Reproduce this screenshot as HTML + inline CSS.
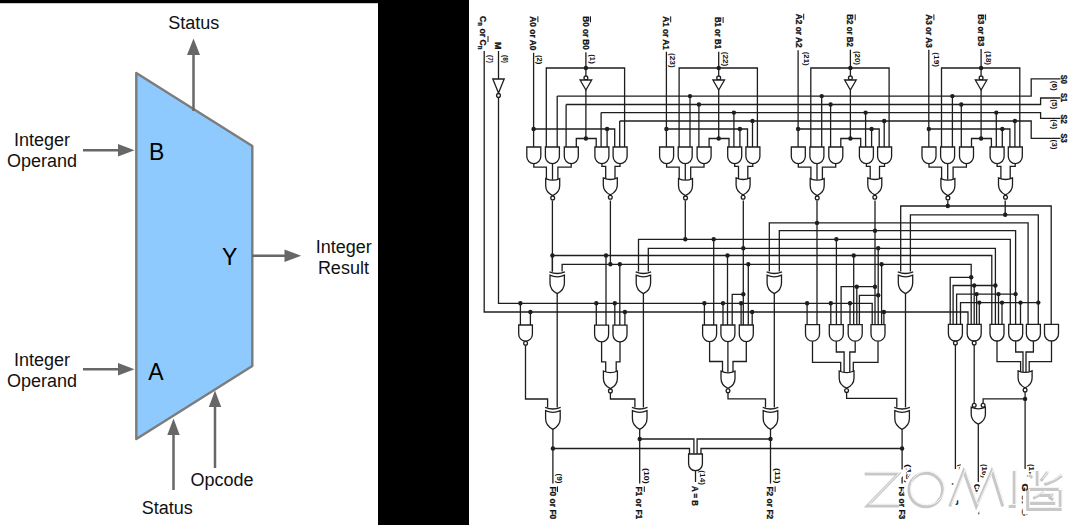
<!DOCTYPE html>
<html><head><meta charset="utf-8">
<style>
html,body{margin:0;padding:0;width:1080px;height:525px;overflow:hidden;background:#fff;}
svg{position:absolute;left:0;top:0;display:block;}
.g{fill:#fff;}
.d{fill:#1e1e1e;stroke:none;}
.b{fill:#fff;}
.n{fill:none;}
</style></head>
<body>
<svg width="1080" height="525" viewBox="0 0 1080 525">
<rect x="0" y="0" width="1080" height="525" fill="#fff"/>
<rect x="0" y="0" width="378" height="3.2" fill="#000"/>
<rect x="378" y="0" width="91" height="525" fill="#000"/>
<!-- ALU -->
<g id="alu">
<polygon points="136.3,73 252.3,146 252.3,366 136.3,439" fill="#8ecafe" stroke="#7c7c7c" stroke-width="2.45" stroke-linejoin="round"/>
<g stroke="#676767" stroke-width="2.5" fill="#676767">
<line x1="193.5" y1="111" x2="193.5" y2="54"/>
<polygon points="187,55 200,55 193.5,38.5" stroke="none"/>
<line x1="83" y1="150.2" x2="119" y2="150.2"/>
<polygon points="118,144 118,156.4 134.5,150.2" stroke="none"/>
<line x1="83" y1="369.2" x2="119" y2="369.2"/>
<polygon points="118,363 118,375.4 134.5,369.2" stroke="none"/>
<line x1="252" y1="255.8" x2="285" y2="255.8"/>
<polygon points="284.5,249.6 284.5,262 301.2,255.8" stroke="none"/>
<line x1="173.5" y1="490" x2="173.5" y2="434"/>
<polygon points="167.3,435 179.7,435 173.5,418.5" stroke="none"/>
<line x1="215" y1="468" x2="215" y2="406"/>
<polygon points="208.8,407 221.2,407 215,390.5" stroke="none"/>
</g>
<g font-family="Liberation Sans, sans-serif" font-size="18" fill="#111" text-anchor="middle">
<text x="193.7" y="28.5">Status</text>
<text x="42.1" y="145.8">Integer</text>
<text x="42.1" y="167.2">Operand</text>
<text x="42.1" y="365.8">Integer</text>
<text x="42.1" y="386.7">Operand</text>
<text x="343.7" y="252.5">Integer</text>
<text x="343.4" y="273.8">Result</text>
<text x="222.1" y="486.4">Opcode</text>
<text x="167.3" y="514">Status</text>
</g>
<g font-family="Liberation Sans, sans-serif" font-size="23" fill="#000">
<text x="149" y="160">B</text>
<text x="148.3" y="380.3">A</text>
<text x="222" y="264.7">Y</text>
</g>
</g>
<!-- SCHEMATIC -->
<g stroke="#1e1e1e" stroke-width="1.3" fill="none" stroke-linejoin="miter">
<polyline points="533.6,52.8 533.6,147"/>
<polyline points="585.9,52.3 585.9,75.8"/>
<circle cx="585.9" cy="77.9" r="1.9" class="b"/>
<path d="M580.1 80H591.7L585.9 90Z" class="g"/>
<polyline points="585.9,90 585.9,138.5"/>
<circle cx="585.9" cy="138.5" r="2.2" class="d"/>
<polyline points="546.3,147 546.3,68 624.6,68 624.6,147"/>
<circle cx="585.9" cy="68" r="2.2" class="d"/>
<polyline points="557.2,96.1 557.2,147"/>
<polyline points="566.1,104.5 566.1,147"/>
<polyline points="601.1,112.6 601.1,147"/>
<polyline points="619.7,121 619.7,147"/>
<polyline points="576.3,147 576.3,138.5 596.2,138.5 596.2,147"/>
<polyline points="533.6,129 614.7,129 614.7,147"/>
<circle cx="533.6" cy="129" r="2.2" class="d"/>
<circle cx="607.1" cy="129" r="2.2" class="d"/>
<polyline points="607.1,129 607.1,147"/>
<path d="M526.8 147H540.8V156.6A7 7 0 0 1 526.8 156.6Z" class="g"/>
<path d="M545.4 147H559.4V156.6A7 7 0 0 1 545.4 156.6Z" class="g"/>
<path d="M564.3 147H578.3V156.6A7 7 0 0 1 564.3 156.6Z" class="g"/>
<path d="M594.9 147H608.9V156.6A7 7 0 0 1 594.9 156.6Z" class="g"/>
<path d="M613.1 147H627.1V156.6A7 7 0 0 1 613.1 156.6Z" class="g"/>
<polyline points="533.8,163.6 533.8,167.1 546.4,167.1 546.4,179.5"/>
<polyline points="552.5,163.6 552.5,179.8"/>
<polyline points="571.2,163.6 571.2,167.1 557.9,167.1 557.9,179.5"/>
<polyline points="601.9,163.6 601.9,166.4 605.7,166.4 605.7,179"/>
<polyline points="620,163.6 620,166.4 615,166.4 615,179"/>
<path d="M545.7 178.6Q552.7 181.8 559.7 178.6V185.7Q559.7 192.2 552.7 195.6Q545.7 192.2 545.7 185.7Z" class="g"/>
<circle cx="552.7" cy="197.9" r="1.9" class="b"/>
<path d="M603.3 177.9Q610.3 181.1 617.3 177.9V185Q617.3 191.5 610.3 194.9Q603.3 191.5 603.3 185Z" class="g"/>
<circle cx="610.3" cy="197.2" r="1.9" class="b"/>
<polyline points="666.4,51.7 666.4,147"/>
<polyline points="718.7,51.7 718.7,75.8"/>
<circle cx="718.7" cy="77.9" r="1.9" class="b"/>
<path d="M712.9 80H724.5L718.7 90Z" class="g"/>
<polyline points="718.7,90 718.7,138.5"/>
<circle cx="718.7" cy="138.5" r="2.2" class="d"/>
<polyline points="679.1,147 679.1,68 757.4,68 757.4,147"/>
<circle cx="718.7" cy="68" r="2.2" class="d"/>
<polyline points="690,96.1 690,147"/>
<polyline points="698.9,104.5 698.9,147"/>
<polyline points="733.9,112.6 733.9,147"/>
<polyline points="752.5,121 752.5,147"/>
<circle cx="690" cy="96.1" r="2.2" class="d"/>
<circle cx="698.9" cy="104.5" r="2.2" class="d"/>
<circle cx="733.9" cy="112.6" r="2.2" class="d"/>
<circle cx="752.5" cy="121" r="2.2" class="d"/>
<polyline points="709.1,147 709.1,138.5 729,138.5 729,147"/>
<polyline points="666.4,129 747.5,129 747.5,147"/>
<circle cx="666.4" cy="129" r="2.2" class="d"/>
<circle cx="739.9" cy="129" r="2.2" class="d"/>
<polyline points="739.9,129 739.9,147"/>
<path d="M659.6 147H673.6V156.6A7 7 0 0 1 659.6 156.6Z" class="g"/>
<path d="M678.2 147H692.2V156.6A7 7 0 0 1 678.2 156.6Z" class="g"/>
<path d="M697.1 147H711.1V156.6A7 7 0 0 1 697.1 156.6Z" class="g"/>
<path d="M727.7 147H741.7V156.6A7 7 0 0 1 727.7 156.6Z" class="g"/>
<path d="M745.9 147H759.9V156.6A7 7 0 0 1 745.9 156.6Z" class="g"/>
<polyline points="666.6,163.6 666.6,167.1 679.2,167.1 679.2,179.5"/>
<polyline points="685.3,163.6 685.3,179.8"/>
<polyline points="704,163.6 704,167.1 690.7,167.1 690.7,179.5"/>
<polyline points="734.7,163.6 734.7,166.4 738.5,166.4 738.5,179"/>
<polyline points="752.8,163.6 752.8,166.4 747.8,166.4 747.8,179"/>
<path d="M678.5 178.6Q685.5 181.8 692.5 178.6V185.7Q692.5 192.2 685.5 195.6Q678.5 192.2 678.5 185.7Z" class="g"/>
<circle cx="685.5" cy="197.9" r="1.9" class="b"/>
<path d="M736.1 177.9Q743.1 181.1 750.1 177.9V185Q750.1 191.5 743.1 194.9Q736.1 191.5 736.1 185Z" class="g"/>
<circle cx="743.1" cy="197.2" r="1.9" class="b"/>
<polyline points="798.1,50.3 798.1,147"/>
<polyline points="850.4,49.7 850.4,75.8"/>
<circle cx="850.4" cy="77.9" r="1.9" class="b"/>
<path d="M844.6 80H856.2L850.4 90Z" class="g"/>
<polyline points="850.4,90 850.4,138.5"/>
<circle cx="850.4" cy="138.5" r="2.2" class="d"/>
<polyline points="810.8,147 810.8,68 889.1,68 889.1,147"/>
<circle cx="850.4" cy="68" r="2.2" class="d"/>
<polyline points="821.7,96.1 821.7,147"/>
<polyline points="830.6,104.5 830.6,147"/>
<polyline points="865.6,112.6 865.6,147"/>
<polyline points="884.2,121 884.2,147"/>
<circle cx="821.7" cy="96.1" r="2.2" class="d"/>
<circle cx="830.6" cy="104.5" r="2.2" class="d"/>
<circle cx="865.6" cy="112.6" r="2.2" class="d"/>
<circle cx="884.2" cy="121" r="2.2" class="d"/>
<polyline points="840.8,147 840.8,138.5 860.7,138.5 860.7,147"/>
<polyline points="798.1,129 879.2,129 879.2,147"/>
<circle cx="798.1" cy="129" r="2.2" class="d"/>
<circle cx="871.6" cy="129" r="2.2" class="d"/>
<polyline points="871.6,129 871.6,147"/>
<path d="M791.3 147H805.3V156.6A7 7 0 0 1 791.3 156.6Z" class="g"/>
<path d="M809.9 147H823.9V156.6A7 7 0 0 1 809.9 156.6Z" class="g"/>
<path d="M828.8 147H842.8V156.6A7 7 0 0 1 828.8 156.6Z" class="g"/>
<path d="M859.4 147H873.4V156.6A7 7 0 0 1 859.4 156.6Z" class="g"/>
<path d="M877.6 147H891.6V156.6A7 7 0 0 1 877.6 156.6Z" class="g"/>
<polyline points="798.3,163.6 798.3,167.1 810.9,167.1 810.9,179.5"/>
<polyline points="817,163.6 817,179.8"/>
<polyline points="835.7,163.6 835.7,167.1 822.4,167.1 822.4,179.5"/>
<polyline points="866.4,163.6 866.4,166.4 870.2,166.4 870.2,179"/>
<polyline points="884.5,163.6 884.5,166.4 879.5,166.4 879.5,179"/>
<path d="M810.2 178.6Q817.2 181.8 824.2 178.6V185.7Q824.2 192.2 817.2 195.6Q810.2 192.2 810.2 185.7Z" class="g"/>
<circle cx="817.2" cy="197.9" r="1.9" class="b"/>
<path d="M867.8 177.9Q874.8 181.1 881.8 177.9V185Q881.8 191.5 874.8 194.9Q867.8 191.5 867.8 185Z" class="g"/>
<circle cx="874.8" cy="197.2" r="1.9" class="b"/>
<polyline points="928.8,49.7 928.8,147"/>
<polyline points="981.1,49 981.1,75.8"/>
<circle cx="981.1" cy="77.9" r="1.9" class="b"/>
<path d="M975.3 80H986.9L981.1 90Z" class="g"/>
<polyline points="981.1,90 981.1,138.5"/>
<circle cx="981.1" cy="138.5" r="2.2" class="d"/>
<polyline points="941.5,147 941.5,68 1019.8,68 1019.8,147"/>
<circle cx="981.1" cy="68" r="2.2" class="d"/>
<polyline points="952.4,96.1 952.4,147"/>
<polyline points="961.3,104.5 961.3,147"/>
<polyline points="996.3,112.6 996.3,147"/>
<polyline points="1014.9,121 1014.9,147"/>
<circle cx="952.4" cy="96.1" r="2.2" class="d"/>
<circle cx="961.3" cy="104.5" r="2.2" class="d"/>
<circle cx="996.3" cy="112.6" r="2.2" class="d"/>
<circle cx="1014.9" cy="121" r="2.2" class="d"/>
<polyline points="971.5,147 971.5,138.5 991.4,138.5 991.4,147"/>
<polyline points="928.8,129 1009.9,129 1009.9,147"/>
<circle cx="928.8" cy="129" r="2.2" class="d"/>
<circle cx="1002.3" cy="129" r="2.2" class="d"/>
<polyline points="1002.3,129 1002.3,147"/>
<path d="M922 147H936V156.6A7 7 0 0 1 922 156.6Z" class="g"/>
<path d="M940.6 147H954.6V156.6A7 7 0 0 1 940.6 156.6Z" class="g"/>
<path d="M959.5 147H973.5V156.6A7 7 0 0 1 959.5 156.6Z" class="g"/>
<path d="M990.1 147H1004.1V156.6A7 7 0 0 1 990.1 156.6Z" class="g"/>
<path d="M1008.3 147H1022.3V156.6A7 7 0 0 1 1008.3 156.6Z" class="g"/>
<polyline points="929,163.6 929,167.1 941.6,167.1 941.6,179.5"/>
<polyline points="947.7,163.6 947.7,179.8"/>
<polyline points="966.4,163.6 966.4,167.1 953.1,167.1 953.1,179.5"/>
<polyline points="997.1,163.6 997.1,166.4 1000.9,166.4 1000.9,179"/>
<polyline points="1015.2,163.6 1015.2,166.4 1010.2,166.4 1010.2,179"/>
<path d="M940.9 178.6Q947.9 181.8 954.9 178.6V185.7Q954.9 192.2 947.9 195.6Q940.9 192.2 940.9 185.7Z" class="g"/>
<circle cx="947.9" cy="197.9" r="1.9" class="b"/>
<path d="M998.5 177.9Q1005.5 181.1 1012.5 177.9V185Q1012.5 191.5 1005.5 194.9Q998.5 191.5 998.5 185Z" class="g"/>
<circle cx="1005.5" cy="197.2" r="1.9" class="b"/>
<polyline points="557.2,96.1 1031.2,96.1 1031.2,78.9 1060.5,78.9"/>
<polyline points="566.1,104.5 1040.6,104.5 1040.6,98 1060.5,98"/>
<polyline points="601.1,112.6 1040.6,112.6 1040.6,118.3 1060.5,118.3"/>
<polyline points="619.7,121 1031.2,121 1031.2,138.3 1060.5,138.3"/>
<polyline points="484.2,51 484.2,312 968,312 968,324.4"/>
<circle cx="530.4" cy="312" r="2.2" class="d"/>
<polyline points="530.4,312 530.4,325"/>
<circle cx="624.9" cy="312" r="2.2" class="d"/>
<polyline points="624.9,312 624.9,325"/>
<circle cx="752.2" cy="312" r="2.2" class="d"/>
<polyline points="752.2,312 752.2,325"/>
<circle cx="883.9" cy="312" r="2.2" class="d"/>
<polyline points="883.9,312 883.9,325"/>
<polyline points="498.5,51 498.5,79"/>
<path d="M492.8 79H504.2L498.5 93Z" class="g"/>
<circle cx="498.5" cy="95.4" r="1.9" class="b"/>
<polyline points="498.5,97.5 498.5,303.3 872.2,303.3 872.2,324.6"/>
<circle cx="520.4" cy="303.3" r="2.2" class="d"/>
<polyline points="520.4,303.3 520.4,325"/>
<circle cx="596.3" cy="303.3" r="2.2" class="d"/>
<polyline points="596.3,303.3 596.3,325"/>
<circle cx="614.8" cy="303.3" r="2.2" class="d"/>
<polyline points="614.8,303.3 614.8,325"/>
<circle cx="704.4" cy="303.3" r="2.2" class="d"/>
<polyline points="704.4,303.3 704.4,325"/>
<circle cx="723" cy="303.3" r="2.2" class="d"/>
<polyline points="723,303.3 723,325"/>
<circle cx="741.1" cy="303.3" r="2.2" class="d"/>
<polyline points="741.1,303.3 741.1,325"/>
<circle cx="807.1" cy="303.3" r="2.2" class="d"/>
<polyline points="807.1,303.3 807.1,325"/>
<circle cx="830.8" cy="303.3" r="2.2" class="d"/>
<polyline points="830.8,303.3 830.8,325"/>
<circle cx="850" cy="303.3" r="2.2" class="d"/>
<polyline points="850,303.3 850,325"/>
<polyline points="900.7,271.5 900.7,206 1051.2,206 1051.2,324.4"/>
<polyline points="910.4,271.5 910.4,214.8 1038.3,214.8 1038.3,324.4"/>
<polyline points="769.3,271.5 769.3,222.9 1028.1,222.9 1028.1,324.4"/>
<polyline points="779.3,271.5 779.3,230.7 1015.6,230.7 1015.6,324.4"/>
<polyline points="638.5,271.5 638.5,239.3 1010.3,239.3 1010.3,324.4"/>
<polyline points="648.3,271.5 648.3,248.3 995.4,248.3 995.4,324.4"/>
<polyline points="552.4,271.5 552.4,255.5 991.8,255.5 991.8,324.4"/>
<polyline points="562.1,271.5 562.1,264.3 971.2,264.3 971.2,324.4"/>
<polyline points="552.4,200.5 552.4,271.5"/>
<circle cx="552.4" cy="255.5" r="2.2" class="d"/>
<polyline points="610.4,200.5 610.4,264.3"/>
<circle cx="610.4" cy="264.3" r="2.2" class="d"/>
<polyline points="685.3,200.5 685.3,239.3"/>
<circle cx="685.3" cy="239.3" r="2.2" class="d"/>
<polyline points="743.3,200.5 743.3,325"/>
<circle cx="743.3" cy="248.3" r="2.2" class="d"/>
<circle cx="743.3" cy="294.3" r="2.2" class="d"/>
<polyline points="817,200.5 817,325"/>
<circle cx="817" cy="222.9" r="2.2" class="d"/>
<polyline points="875,200.5 875,324.6"/>
<circle cx="875" cy="230.7" r="2.2" class="d"/>
<circle cx="875" cy="286.7" r="2.2" class="d"/>
<polyline points="947.8,200.5 947.8,206"/>
<circle cx="947.8" cy="206" r="2.2" class="d"/>
<polyline points="1005.2,200.5 1005.2,214.8"/>
<circle cx="1005.2" cy="214.8" r="2.2" class="d"/>
<circle cx="606" cy="255.5" r="2.2" class="d"/>
<polyline points="606,255.5 606,325"/>
<circle cx="727.5" cy="255.5" r="2.2" class="d"/>
<polyline points="727.5,255.5 727.5,325"/>
<circle cx="853.7" cy="255.5" r="2.2" class="d"/>
<polyline points="853.7,255.5 853.7,325"/>
<circle cx="619.8" cy="264.3" r="2.2" class="d"/>
<polyline points="619.8,264.3 619.8,325"/>
<circle cx="748.3" cy="264.3" r="2.2" class="d"/>
<polyline points="748.3,264.3 748.3,325"/>
<circle cx="881.6" cy="264.3" r="2.2" class="d"/>
<polyline points="881.6,264.3 881.6,325"/>
<circle cx="713.7" cy="239.3" r="2.2" class="d"/>
<polyline points="713.7,239.3 713.7,325"/>
<circle cx="836.4" cy="239.3" r="2.2" class="d"/>
<polyline points="836.4,239.3 836.4,325"/>
<circle cx="878.2" cy="248.3" r="2.2" class="d"/>
<polyline points="878.2,248.3 878.2,325"/>
<polyline points="732.2,325 732.2,294.3 743.3,294.3"/>
<polyline points="841.1,324.6 841.1,286.7 875,286.7"/>
<circle cx="856.8" cy="286.7" r="2.2" class="d"/>
<polyline points="856.8,286.7 856.8,324.6"/>
<polyline points="859.4,324.6 859.4,295.3 878.2,295.3"/>
<circle cx="878.2" cy="295.3" r="2.2" class="d"/>
<polyline points="950.2,324.4 950.2,277.3 971.2,277.3"/>
<circle cx="971.2" cy="277.3" r="2.2" class="d"/>
<polyline points="953.1,324.4 953.1,285.5 995.4,285.5"/>
<circle cx="995.4" cy="285.5" r="2.2" class="d"/>
<circle cx="974.2" cy="285.5" r="2.2" class="d"/>
<polyline points="974.2,285.5 974.2,324.4"/>
<polyline points="956.6,324.4 956.6,294.1 1015.6,294.1"/>
<circle cx="1015.6" cy="294.1" r="2.2" class="d"/>
<circle cx="976.6" cy="294.1" r="2.2" class="d"/>
<polyline points="976.6,294.1 976.6,324.4"/>
<circle cx="998.5" cy="294.1" r="2.2" class="d"/>
<polyline points="998.5,294.1 998.5,324.4"/>
<polyline points="960.5,324.4 960.5,302.6 1038.3,302.6"/>
<circle cx="1038.3" cy="302.6" r="2.2" class="d"/>
<circle cx="979.3" cy="302.6" r="2.2" class="d"/>
<polyline points="979.3,302.6 979.3,324.4"/>
<circle cx="1002" cy="302.6" r="2.2" class="d"/>
<polyline points="1002,302.6 1002,324.4"/>
<circle cx="1020.5" cy="302.6" r="2.2" class="d"/>
<polyline points="1020.5,302.6 1020.5,324.4"/>
<path d="M550 275.2Q557.2 278.4 564.4 275.2V282.9Q564.4 289.9 557.2 293.6Q550 289.9 550 282.9Z" class="g"/>
<path d="M549.5 271.9Q557.2 275.1 564.9 271.9" class="n"/>
<polyline points="557.2,293.6 557.2,407.5"/>
<path d="M636.2 275.2Q643.4 278.4 650.6 275.2V282.9Q650.6 289.9 643.4 293.6Q636.2 289.9 636.2 282.9Z" class="g"/>
<path d="M635.7 271.9Q643.4 275.1 651.1 271.9" class="n"/>
<polyline points="643.4,293.6 643.4,407.5"/>
<path d="M767.1 275.2Q774.3 278.4 781.5 275.2V282.9Q781.5 289.9 774.3 293.6Q767.1 289.9 767.1 282.9Z" class="g"/>
<path d="M766.6 271.9Q774.3 275.1 782 271.9" class="n"/>
<polyline points="774.3,293.6 774.3,407.5"/>
<path d="M898.3 275.2Q905.5 278.4 912.7 275.2V282.9Q912.7 289.9 905.5 293.6Q898.3 289.9 898.3 282.9Z" class="g"/>
<path d="M897.8 271.9Q905.5 275.1 913.2 271.9" class="n"/>
<polyline points="905.5,293.6 905.5,407.5"/>
<path d="M518.7 325H532.4V334.3A6.8 6.8 0 0 1 518.7 334.3Z" class="g"/>
<circle cx="525.6" cy="343.2" r="1.9" class="b"/>
<polyline points="525.5,345.4 525.5,399 547.6,399 547.6,407.5"/>
<path d="M594.6 325.2H608.6V334.8A7 7 0 0 1 594.6 334.8Z" class="g"/>
<path d="M613 325.2H627V334.8A7 7 0 0 1 613 334.8Z" class="g"/>
<polyline points="601.6,341.8 601.6,361.9 605.7,361.9 605.7,372"/>
<polyline points="620,341.8 620,361.9 616.2,361.9 616.2,372"/>
<path d="M603.4 371Q610.4 374.2 617.4 371V378.4Q617.4 385.1 610.4 388.6Q603.4 385.1 603.4 378.4Z" class="g"/>
<circle cx="610.4" cy="390.9" r="1.9" class="b"/>
<polyline points="610.4,393 610.4,399 634.9,399 634.9,407.5"/>
<path d="M702.6 325H716.6V334.6A7 7 0 0 1 702.6 334.6Z" class="g"/>
<path d="M720.9 325H734.9V334.6A7 7 0 0 1 720.9 334.6Z" class="g"/>
<path d="M739.3 325H753.3V334.6A7 7 0 0 1 739.3 334.6Z" class="g"/>
<polyline points="709.6,341.6 709.6,361.5 722.5,361.5 722.5,372"/>
<polyline points="727.9,341.6 727.9,372"/>
<polyline points="746.3,341.6 746.3,361.5 733,361.5 733,372"/>
<path d="M721 371.2Q728 374.4 735 371.2V378.4Q735 385 728 388.4Q721 385 721 378.4Z" class="g"/>
<circle cx="728" cy="390.7" r="1.9" class="b"/>
<polyline points="728,393 728,398.9 765.5,398.9 765.5,407.5"/>
<path d="M805.5 324.6H819.5V334.2A7 7 0 0 1 805.5 334.2Z" class="g"/>
<path d="M829.3 324.6H843.3V334.2A7 7 0 0 1 829.3 334.2Z" class="g"/>
<path d="M848.2 324.6H862.2V334.2A7 7 0 0 1 848.2 334.2Z" class="g"/>
<path d="M871 324.6H885V334.2A7 7 0 0 1 871 334.2Z" class="g"/>
<polyline points="812.5,341.2 812.5,362.3 840.7,362.3 840.7,372"/>
<polyline points="836.3,341.2 836.3,352 844.1,352 844.1,372"/>
<polyline points="855.2,341.2 855.2,352 849.8,352 849.8,372"/>
<polyline points="878,341.2 878,362.3 853.3,362.3 853.3,372"/>
<path d="M839.2 371Q846.6 374.2 854 371V378.2Q854 384.8 846.6 388.2Q839.2 384.8 839.2 378.2Z" class="g"/>
<circle cx="846.6" cy="390.5" r="1.9" class="b"/>
<polyline points="846.6,392.6 846.6,398.4 896.8,398.4 896.8,407.5"/>
<path d="M948.4 324.4H962.4V334A7 7 0 0 1 948.4 334Z" class="g"/>
<circle cx="955.4" cy="343" r="1.9" class="b"/>
<path d="M967.2 324.4H981.2V334A7 7 0 0 1 967.2 334Z" class="g"/>
<circle cx="974.2" cy="343" r="1.9" class="b"/>
<path d="M990 324.4H1004V334A7 7 0 0 1 990 334Z" class="g"/>
<path d="M1008.7 324.4H1022.7V334A7 7 0 0 1 1008.7 334Z" class="g"/>
<path d="M1026.4 324.4H1040.4V334A7 7 0 0 1 1026.4 334Z" class="g"/>
<path d="M1044.5 324.4H1058.5V334A7 7 0 0 1 1044.5 334Z" class="g"/>
<polyline points="955.4,345.1 955.4,469"/>
<polyline points="974.2,345.1 974.2,403"/>
<polyline points="997,341 997,361.6 1020.6,361.6 1020.6,372"/>
<polyline points="1015.7,341 1015.7,352 1023,352 1023,372"/>
<polyline points="1033.4,341 1033.4,352 1026,352 1026,372"/>
<polyline points="1051.5,341 1051.5,361.6 1029.2,361.6 1029.2,372"/>
<path d="M1018.1 370.8Q1025.1 374 1032.1 370.8V377.9Q1032.1 384.4 1025.1 387.8Q1018.1 384.4 1018.1 377.9Z" class="g"/>
<circle cx="1025.1" cy="390.1" r="1.9" class="b"/>
<polyline points="1025.1,392.3 1025.1,469"/>
<circle cx="1025.1" cy="398.9" r="2.2" class="d"/>
<polyline points="983.1,403 983.1,398.9 1025.1,398.9"/>
<circle cx="974.2" cy="405.2" r="1.9" class="b"/>
<circle cx="983.1" cy="405.2" r="1.9" class="b"/>
<path d="M971.2 407.2Q978.3 410.4 985.4 407.2V414.3Q985.4 420.8 978.3 424.2Q971.2 420.8 971.2 414.3Z" class="g"/>
<polyline points="978.3,424.2 978.3,482"/>
<path d="M545.6 410.7Q552.9 413.9 560.2 410.7V418.5Q560.2 425.6 552.9 429.3Q545.6 425.6 545.6 418.5Z" class="g"/>
<path d="M545.1 407.4Q552.9 410.6 560.7 407.4" class="n"/>
<polyline points="552.9,429.3 552.9,483.5"/>
<path d="M632.4 410.7Q639.7 413.9 647 410.7V418.5Q647 425.6 639.7 429.3Q632.4 425.6 632.4 418.5Z" class="g"/>
<path d="M631.9 407.4Q639.7 410.6 647.5 407.4" class="n"/>
<polyline points="639.7,429.3 639.7,483.5"/>
<path d="M763.2 410.7Q770.5 413.9 777.8 410.7V418.5Q777.8 425.6 770.5 429.3Q763.2 425.6 763.2 418.5Z" class="g"/>
<path d="M762.7 407.4Q770.5 410.6 778.3 407.4" class="n"/>
<polyline points="770.5,429.3 770.5,483.5"/>
<path d="M894.8 410.7Q902.1 413.9 909.4 410.7V418.5Q909.4 425.6 902.1 429.3Q894.8 425.6 894.8 418.5Z" class="g"/>
<path d="M894.3 407.4Q902.1 410.6 909.9 407.4" class="n"/>
<polyline points="902.1,429.3 902.1,483.5"/>
<circle cx="552.9" cy="448.5" r="2.2" class="d"/>
<circle cx="639.7" cy="439" r="2.2" class="d"/>
<circle cx="770.5" cy="439" r="2.2" class="d"/>
<circle cx="902.1" cy="448.5" r="2.2" class="d"/>
<polyline points="552.9,448.5 689.5,448.5 689.5,454"/>
<polyline points="701,454 701,448.5 902.1,448.5"/>
<polyline points="639.7,439 693.9,439 693.9,454"/>
<polyline points="697.1,454 697.1,439 770.5,439"/>
<path d="M688.6 454H702.4V463.8A6.9 6.9 0 0 1 688.6 463.8Z" class="g"/>
<polyline points="695.5,470.7 695.5,482"/>
</g>
<g font-family="Liberation Sans, sans-serif" font-weight="bold" fill="#111" stroke="#111" stroke-width="0.3">
<text transform="translate(530 16.3) rotate(90)" font-size="9.3" textLength="34" lengthAdjust="spacingAndGlyphs">A0 or A0</text>
<line x1="537.9" y1="16.3" x2="537.9" y2="22.3" stroke="#161616" stroke-width="1"/>
<text transform="translate(537.1 55) rotate(90)" font-size="6.8" textLength="9.3" lengthAdjust="spacingAndGlyphs" stroke="none">(2)</text>
<text transform="translate(582.6 16.3) rotate(90)" font-size="9.3" textLength="33.4" lengthAdjust="spacingAndGlyphs">B0 or B0</text>
<line x1="590.5" y1="16.3" x2="590.5" y2="22.3" stroke="#161616" stroke-width="1"/>
<text transform="translate(590.4 54.3) rotate(90)" font-size="6.8" textLength="9.4" lengthAdjust="spacingAndGlyphs" stroke="none">(1)</text>
<text transform="translate(662.8 16.3) rotate(90)" font-size="9.3" textLength="33.4" lengthAdjust="spacingAndGlyphs">A1 or A1</text>
<line x1="670.7" y1="16.3" x2="670.7" y2="22.3" stroke="#161616" stroke-width="1"/>
<text transform="translate(670.1 53) rotate(90)" font-size="6.8" textLength="14.7" lengthAdjust="spacingAndGlyphs" stroke="none">(23)</text>
<text transform="translate(715.2 17) rotate(90)" font-size="9.3" textLength="32" lengthAdjust="spacingAndGlyphs">B1 or B1</text>
<line x1="723.1" y1="17" x2="723.1" y2="23" stroke="#161616" stroke-width="1"/>
<text transform="translate(723.4 51.7) rotate(90)" font-size="6.8" textLength="14.6" lengthAdjust="spacingAndGlyphs" stroke="none">(22)</text>
<text transform="translate(795.8 13.7) rotate(90)" font-size="9.3" textLength="34" lengthAdjust="spacingAndGlyphs">A2 or A2</text>
<line x1="803.7" y1="13.7" x2="803.7" y2="19.7" stroke="#161616" stroke-width="1"/>
<text transform="translate(804.1 51.7) rotate(90)" font-size="6.8" textLength="14" lengthAdjust="spacingAndGlyphs" stroke="none">(21)</text>
<text transform="translate(847.3 14.3) rotate(90)" font-size="9.3" textLength="32.7" lengthAdjust="spacingAndGlyphs">B2 or B2</text>
<line x1="855.2" y1="14.3" x2="855.2" y2="20.3" stroke="#161616" stroke-width="1"/>
<text transform="translate(855.4 51) rotate(90)" font-size="6.8" textLength="14" lengthAdjust="spacingAndGlyphs" stroke="none">(20)</text>
<text transform="translate(926 14.3) rotate(90)" font-size="9.3" textLength="33.4" lengthAdjust="spacingAndGlyphs">A3 or A3</text>
<line x1="933.9" y1="14.3" x2="933.9" y2="20.3" stroke="#161616" stroke-width="1"/>
<text transform="translate(934.1 52.3) rotate(90)" font-size="6.8" textLength="14.7" lengthAdjust="spacingAndGlyphs" stroke="none">(19)</text>
<text transform="translate(977.7 14.3) rotate(90)" font-size="9.3" textLength="32" lengthAdjust="spacingAndGlyphs">B3 or B3</text>
<line x1="985.6" y1="14.3" x2="985.6" y2="20.3" stroke="#161616" stroke-width="1"/>
<text transform="translate(986.1 51) rotate(90)" font-size="6.8" textLength="14" lengthAdjust="spacingAndGlyphs" stroke="none">(18)</text>
<text transform="translate(480 16) rotate(90)" font-size="9.3" textLength="33.5" lengthAdjust="spacingAndGlyphs">C<tspan font-size="6.5" dy="1.8">n</tspan><tspan dy="-1.8"> or C</tspan><tspan font-size="6.5" dy="1.8">n</tspan></text>
<line x1="488" y1="36" x2="488" y2="42" stroke="#161616" stroke-width="1"/>
<text transform="translate(495.2 42) rotate(90)" font-size="9.3" textLength="7.5" lengthAdjust="spacingAndGlyphs">M</text>
<text transform="translate(488.3 55) rotate(90)" font-size="6.8" textLength="8" lengthAdjust="spacingAndGlyphs" stroke="none">(7)</text>
<text transform="translate(503.3 55) rotate(90)" font-size="6.8" textLength="8" lengthAdjust="spacingAndGlyphs" stroke="none">(8)</text>
<text transform="translate(1061.3 74.7) rotate(90)" font-size="9.3" textLength="9.2" lengthAdjust="spacingAndGlyphs">S0</text>
<text transform="translate(1052.4 80.8) rotate(90)" font-size="6.8" textLength="10" lengthAdjust="spacingAndGlyphs" stroke="none">(6)</text>
<text transform="translate(1061.3 93.1) rotate(90)" font-size="9.3" textLength="9.2" lengthAdjust="spacingAndGlyphs">S1</text>
<text transform="translate(1052.4 99.2) rotate(90)" font-size="6.8" textLength="10" lengthAdjust="spacingAndGlyphs" stroke="none">(5)</text>
<text transform="translate(1061.3 114.4) rotate(90)" font-size="9.3" textLength="9.2" lengthAdjust="spacingAndGlyphs">S2</text>
<text transform="translate(1052.4 119.2) rotate(90)" font-size="6.8" textLength="10" lengthAdjust="spacingAndGlyphs" stroke="none">(4)</text>
<text transform="translate(1061.3 133.4) rotate(90)" font-size="9.3" textLength="9.2" lengthAdjust="spacingAndGlyphs">S3</text>
<text transform="translate(1052.4 139.5) rotate(90)" font-size="6.8" textLength="10" lengthAdjust="spacingAndGlyphs" stroke="none">(3)</text>
<text transform="translate(549.6 486.4) rotate(90)" font-size="9.3" textLength="32.9" lengthAdjust="spacingAndGlyphs">F0 or F0</text>
<line x1="557.5" y1="486.4" x2="557.5" y2="492" stroke="#161616" stroke-width="1"/>
<text transform="translate(557.1 473.6) rotate(90)" font-size="6.8" textLength="10" lengthAdjust="spacingAndGlyphs" stroke="none">(9)</text>
<text transform="translate(636.4 486.4) rotate(90)" font-size="9.3" textLength="32.9" lengthAdjust="spacingAndGlyphs">F1 or F1</text>
<line x1="644.3" y1="486.4" x2="644.3" y2="492" stroke="#161616" stroke-width="1"/>
<text transform="translate(644.1 468) rotate(90)" font-size="6.8" textLength="15.6" lengthAdjust="spacingAndGlyphs" stroke="none">(10)</text>
<text transform="translate(767.2 486.4) rotate(90)" font-size="9.3" textLength="32.9" lengthAdjust="spacingAndGlyphs">F2 or F2</text>
<line x1="775.1" y1="486.4" x2="775.1" y2="492" stroke="#161616" stroke-width="1"/>
<text transform="translate(774.6 468) rotate(90)" font-size="6.8" textLength="15.6" lengthAdjust="spacingAndGlyphs" stroke="none">(11)</text>
<text transform="translate(898.8 486.4) rotate(90)" font-size="9.3" textLength="32.9" lengthAdjust="spacingAndGlyphs">F3 or F3</text>
<line x1="906.7" y1="486.4" x2="906.7" y2="492" stroke="#161616" stroke-width="1"/>
<text transform="translate(906.1 464) rotate(90)" font-size="6.8" textLength="19.6" lengthAdjust="spacingAndGlyphs" stroke="none">(13)</text>
<text transform="translate(699.6 470.3) rotate(90)" font-size="6.8" textLength="14.7" lengthAdjust="spacingAndGlyphs" stroke="none">(14)</text>
<text transform="translate(692.2 486) rotate(90)" font-size="9.3" textLength="20" lengthAdjust="spacingAndGlyphs">A = B</text>
<text transform="translate(958.7 464) rotate(90)" font-size="6.8" textLength="14" lengthAdjust="spacingAndGlyphs" stroke="none">(15)</text>
<text transform="translate(952.1 483) rotate(90)" font-size="9.3" textLength="22" lengthAdjust="spacingAndGlyphs">P or P</text>
<text transform="translate(981.8 464) rotate(90)" font-size="6.8" textLength="14" lengthAdjust="spacingAndGlyphs" stroke="none">(16)</text>
<text transform="translate(974.2 484) rotate(90)" font-size="9.3" textLength="30" lengthAdjust="spacingAndGlyphs">Cn+4 or</text>
<text transform="translate(1029 464) rotate(90)" font-size="6.8" textLength="14" lengthAdjust="spacingAndGlyphs" stroke="none">(17)</text>
<text transform="translate(1021.8 483.5) rotate(90)" font-size="9.3" textLength="32.5" lengthAdjust="spacingAndGlyphs">G or G</text>
</g>
<g fill="none" stroke="#ffffff" stroke-width="9.5" stroke-linecap="butt" transform="translate(-1.0 1.2)">
<path d="M865.5 473H899L868 505H900"/>
<circle cx="926.5" cy="489" r="16.8"/>
<path d="M950.5 505.5L964.5 470L977 505.5L992.5 470L1003.5 505.5"/>
<path d="M1015 470V505.5H1009.5"/>
<path d="M1030 474L1033 477"/>
<path d="M1038 470V485"/>
<path d="M1048.5 471L1041.5 480"/>
<path d="M1062.5 474.5Q1055 481 1045 483.5"/>
<path d="M1029 488.5H1059.5"/>
<path d="M1044.5 491.5L1034 497.5M1040.5 494.5H1054M1049.5 496L1054 499"/>
<path d="M1029 502.5H1056"/>
<path d="M1028.5 490V508.5H1061V489"/>
</g>
<g fill="none" stroke="#c8c8c8" stroke-width="3.0" stroke-linecap="butt" transform="translate(-0.8 1.0)">
<path d="M865.5 473H899L868 505H900"/>
<circle cx="926.5" cy="489" r="16.8"/>
<path d="M950.5 505.5L964.5 470L977 505.5L992.5 470L1003.5 505.5"/>
<path d="M1015 470V505.5H1009.5"/>
<path d="M1030 474L1033 477"/>
<path d="M1038 470V485"/>
<path d="M1048.5 471L1041.5 480"/>
<path d="M1062.5 474.5Q1055 481 1045 483.5"/>
<path d="M1029 488.5H1059.5"/>
<path d="M1044.5 491.5L1034 497.5M1040.5 494.5H1054M1049.5 496L1054 499"/>
<path d="M1029 502.5H1056"/>
<path d="M1028.5 490V508.5H1061V489"/>
</g>
<g fill="none" stroke="#f4f4f4" stroke-width="1.0" stroke-linecap="butt" transform="translate(1.0 -1.0)">
<path d="M865.5 473H899L868 505H900"/>
<circle cx="926.5" cy="489" r="16.8"/>
<path d="M950.5 505.5L964.5 470L977 505.5L992.5 470L1003.5 505.5"/>
<path d="M1015 470V505.5H1009.5"/>
<path d="M1030 474L1033 477"/>
<path d="M1038 470V485"/>
<path d="M1048.5 471L1041.5 480"/>
<path d="M1062.5 474.5Q1055 481 1045 483.5"/>
<path d="M1029 488.5H1059.5"/>
<path d="M1044.5 491.5L1034 497.5M1040.5 494.5H1054M1049.5 496L1054 499"/>
<path d="M1029 502.5H1056"/>
<path d="M1028.5 490V508.5H1061V489"/>
</g>
<!-- /SCHEMATIC -->
</svg>
</body></html>
